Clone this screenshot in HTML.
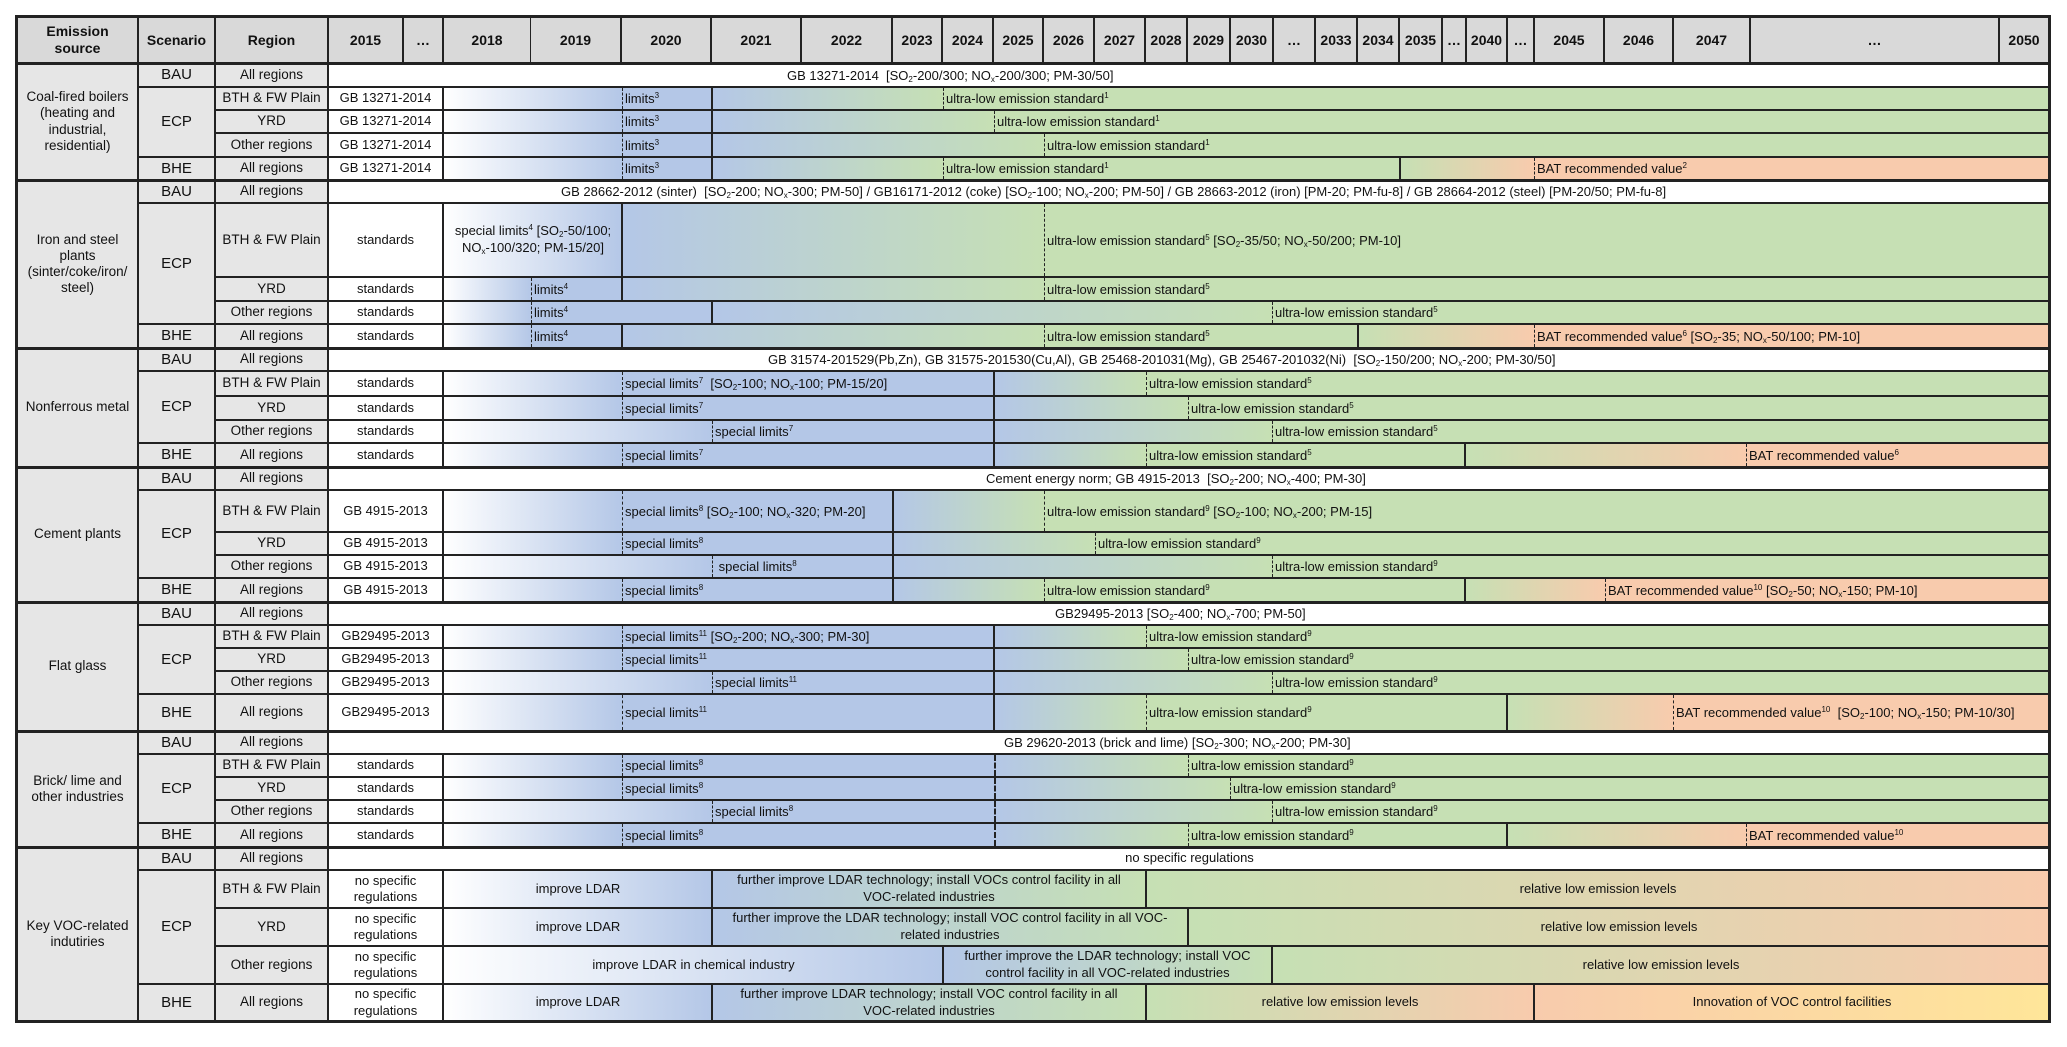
<!DOCTYPE html>
<html><head><meta charset="utf-8"><style>
body{margin:0;width:2067px;height:1047px;background:#fff;position:relative;font-family:"Liberation Sans",Arial,sans-serif;overflow:hidden;color:#111}
.c{position:absolute;box-sizing:border-box;border:1px solid #222;display:flex;align-items:center;justify-content:center;text-align:center;line-height:1.2}
.h{background:#d9d9d9;font-weight:bold;font-size:14px}
.l{background:#e6e6e6;font-size:13.5px}
.sc{font-size:15px}
.r{position:absolute;left:328px;width:1721px;box-sizing:border-box;border:1px solid #222;background:#fff;font-size:13px;overflow:hidden}
.f{position:absolute;left:0;top:0;bottom:0;width:115px;display:flex;align-items:center;justify-content:center;text-align:center;border-right:2px solid #222;box-sizing:border-box;line-height:1.25;background:#fff}
.s{position:absolute;top:0;bottom:0}
.v{position:absolute;top:0;bottom:0;width:2px;background:#222}
.d{position:absolute;top:0;bottom:0;width:0;border-left:1.3px dashed #222}
.t{position:absolute;top:0;bottom:0;display:flex;align-items:center;white-space:nowrap;padding-left:3px}
.m{position:absolute;top:0;bottom:0;display:flex;align-items:center;justify-content:center;text-align:center;line-height:1.3}
.bt{position:absolute;top:0;bottom:0;display:flex;align-items:center;white-space:nowrap}
sup{font-size:8px;vertical-align:5px;line-height:0}
sub{font-size:8px;vertical-align:-2px;line-height:0}
.g{position:absolute;left:17px;width:2032px;height:3px;background:#222}
</style></head><body>

<div class="c h" style="left:17px;top:17px;width:121px;height:46px">Emission<br>source</div>
<div class="c h" style="left:138px;top:17px;width:77px;height:46px">Scenario</div>
<div class="c h" style="left:215px;top:17px;width:113px;height:46px">Region</div>
<div class="c h" style="left:328px;top:17px;width:75px;height:46px">2015</div>
<div class="c h" style="left:403px;top:17px;width:40px;height:46px">…</div>
<div class="c h" style="left:443px;top:17px;width:88px;height:46px">2018</div>
<div class="c h" style="left:530px;top:17px;width:91px;height:46px">2019</div>
<div class="c h" style="left:621px;top:17px;width:90px;height:46px">2020</div>
<div class="c h" style="left:711px;top:17px;width:90px;height:46px">2021</div>
<div class="c h" style="left:801px;top:17px;width:91px;height:46px">2022</div>
<div class="c h" style="left:892px;top:17px;width:50px;height:46px">2023</div>
<div class="c h" style="left:942px;top:17px;width:51px;height:46px">2024</div>
<div class="c h" style="left:993px;top:17px;width:50px;height:46px">2025</div>
<div class="c h" style="left:1043px;top:17px;width:51px;height:46px">2026</div>
<div class="c h" style="left:1094px;top:17px;width:51px;height:46px">2027</div>
<div class="c h" style="left:1145px;top:17px;width:42px;height:46px">2028</div>
<div class="c h" style="left:1187px;top:17px;width:43px;height:46px">2029</div>
<div class="c h" style="left:1230px;top:17px;width:43px;height:46px">2030</div>
<div class="c h" style="left:1273px;top:17px;width:42px;height:46px">…</div>
<div class="c h" style="left:1315px;top:17px;width:42px;height:46px">2033</div>
<div class="c h" style="left:1357px;top:17px;width:42px;height:46px">2034</div>
<div class="c h" style="left:1399px;top:17px;width:43px;height:46px">2035</div>
<div class="c h" style="left:1442px;top:17px;width:24px;height:46px">…</div>
<div class="c h" style="left:1466px;top:17px;width:41px;height:46px">2040</div>
<div class="c h" style="left:1507px;top:17px;width:27px;height:46px">…</div>
<div class="c h" style="left:1534px;top:17px;width:70px;height:46px">2045</div>
<div class="c h" style="left:1604px;top:17px;width:69px;height:46px">2046</div>
<div class="c h" style="left:1673px;top:17px;width:77px;height:46px">2047</div>
<div class="c h" style="left:1750px;top:17px;width:249px;height:46px">…</div>
<div class="c h" style="left:1999px;top:17px;width:50px;height:46px">2050</div>

<div class="c l" style="left:17px;top:63px;width:121px;height:117px">Coal-fired boilers<br>(heating and<br>industrial,<br>residential)</div>
<div class="c l" style="left:17px;top:180px;width:121px;height:168px">Iron and steel<br>plants<br>(sinter/coke/iron/<br>steel)</div>
<div class="c l" style="left:17px;top:348px;width:121px;height:119px">Nonferrous metal</div>
<div class="c l" style="left:17px;top:467px;width:121px;height:135px">Cement plants</div>
<div class="c l" style="left:17px;top:602px;width:121px;height:129px">Flat glass</div>
<div class="c l" style="left:17px;top:731px;width:121px;height:116px">Brick/ lime and<br>other industries</div>
<div class="c l" style="left:17px;top:847px;width:121px;height:174px">Key VOC-related<br>indutiries</div>

<div class="c l sc" style="left:138px;top:63px;width:77px;height:24px">BAU</div>
<div class="c l sc" style="left:138px;top:87px;width:77px;height:70px">ECP</div>
<div class="c l sc" style="left:138px;top:157px;width:77px;height:23px">BHE</div>
<div class="c l sc" style="left:138px;top:180px;width:77px;height:23px">BAU</div>
<div class="c l sc" style="left:138px;top:203px;width:77px;height:121px">ECP</div>
<div class="c l sc" style="left:138px;top:324px;width:77px;height:24px">BHE</div>
<div class="c l sc" style="left:138px;top:348px;width:77px;height:23px">BAU</div>
<div class="c l sc" style="left:138px;top:371px;width:77px;height:72px">ECP</div>
<div class="c l sc" style="left:138px;top:443px;width:77px;height:24px">BHE</div>
<div class="c l sc" style="left:138px;top:467px;width:77px;height:23px">BAU</div>
<div class="c l sc" style="left:138px;top:490px;width:77px;height:88px">ECP</div>
<div class="c l sc" style="left:138px;top:578px;width:77px;height:24px">BHE</div>
<div class="c l sc" style="left:138px;top:602px;width:77px;height:23px">BAU</div>
<div class="c l sc" style="left:138px;top:625px;width:77px;height:69px">ECP</div>
<div class="c l sc" style="left:138px;top:694px;width:77px;height:37px">BHE</div>
<div class="c l sc" style="left:138px;top:731px;width:77px;height:23px">BAU</div>
<div class="c l sc" style="left:138px;top:754px;width:77px;height:69px">ECP</div>
<div class="c l sc" style="left:138px;top:823px;width:77px;height:24px">BHE</div>
<div class="c l sc" style="left:138px;top:847px;width:77px;height:23px">BAU</div>
<div class="c l sc" style="left:138px;top:870px;width:77px;height:114px">ECP</div>
<div class="c l sc" style="left:138px;top:984px;width:77px;height:37px">BHE</div>

<div class="c l" style="left:215px;top:63px;width:113px;height:24px">All regions</div>
<div class="c l" style="left:215px;top:87px;width:113px;height:23px">BTH &amp; FW Plain</div>
<div class="c l" style="left:215px;top:110px;width:113px;height:23px">YRD</div>
<div class="c l" style="left:215px;top:133px;width:113px;height:24px">Other regions</div>
<div class="c l" style="left:215px;top:157px;width:113px;height:23px">All regions</div>
<div class="c l" style="left:215px;top:180px;width:113px;height:23px">All regions</div>
<div class="c l" style="left:215px;top:203px;width:113px;height:74px">BTH &amp; FW Plain</div>
<div class="c l" style="left:215px;top:277px;width:113px;height:24px">YRD</div>
<div class="c l" style="left:215px;top:301px;width:113px;height:23px">Other regions</div>
<div class="c l" style="left:215px;top:324px;width:113px;height:24px">All regions</div>
<div class="c l" style="left:215px;top:348px;width:113px;height:23px">All regions</div>
<div class="c l" style="left:215px;top:371px;width:113px;height:25px">BTH &amp; FW Plain</div>
<div class="c l" style="left:215px;top:396px;width:113px;height:24px">YRD</div>
<div class="c l" style="left:215px;top:420px;width:113px;height:23px">Other regions</div>
<div class="c l" style="left:215px;top:443px;width:113px;height:24px">All regions</div>
<div class="c l" style="left:215px;top:467px;width:113px;height:23px">All regions</div>
<div class="c l" style="left:215px;top:490px;width:113px;height:42px">BTH &amp; FW Plain</div>
<div class="c l" style="left:215px;top:532px;width:113px;height:23px">YRD</div>
<div class="c l" style="left:215px;top:555px;width:113px;height:23px">Other regions</div>
<div class="c l" style="left:215px;top:578px;width:113px;height:24px">All regions</div>
<div class="c l" style="left:215px;top:602px;width:113px;height:23px">All regions</div>
<div class="c l" style="left:215px;top:625px;width:113px;height:23px">BTH &amp; FW Plain</div>
<div class="c l" style="left:215px;top:648px;width:113px;height:23px">YRD</div>
<div class="c l" style="left:215px;top:671px;width:113px;height:23px">Other regions</div>
<div class="c l" style="left:215px;top:694px;width:113px;height:37px">All regions</div>
<div class="c l" style="left:215px;top:731px;width:113px;height:23px">All regions</div>
<div class="c l" style="left:215px;top:754px;width:113px;height:23px">BTH &amp; FW Plain</div>
<div class="c l" style="left:215px;top:777px;width:113px;height:23px">YRD</div>
<div class="c l" style="left:215px;top:800px;width:113px;height:23px">Other regions</div>
<div class="c l" style="left:215px;top:823px;width:113px;height:24px">All regions</div>
<div class="c l" style="left:215px;top:847px;width:113px;height:23px">All regions</div>
<div class="c l" style="left:215px;top:870px;width:113px;height:38px">BTH &amp; FW Plain</div>
<div class="c l" style="left:215px;top:908px;width:113px;height:38px">YRD</div>
<div class="c l" style="left:215px;top:946px;width:113px;height:38px">Other regions</div>
<div class="c l" style="left:215px;top:984px;width:113px;height:37px">All regions</div>

<!-- COAL -->
<div class="r" style="top:63px;height:24px"><div class="bt" style="left:458px"><span>GB 13271-2014&nbsp; [SO<sub>2</sub>-200/300; NO<sub>x</sub>-200/300; PM-30/50]</span></div></div>
<div class="r" style="top:87px;height:23px">
<div class="f">GB 13271-2014</div>
<div class="s" style="left:115px;width:268px;background:linear-gradient(90deg,#fff,#b4c7e7 178px)"></div>
<div class="s" style="left:383px;width:1338px;background:linear-gradient(90deg,#b4c7e7,#c6e0b4 231px)"></div>
<div class="v" style="left:382px"></div>
<div class="d" style="left:293px"></div><div class="t" style="left:293px"><span>limits<sup>3</sup></span></div>
<div class="d" style="left:614px"></div><div class="t" style="left:614px"><span>ultra-low emission standard<sup>1</sup></span></div>
</div>
<div class="r" style="top:110px;height:23px">
<div class="f">GB 13271-2014</div>
<div class="s" style="left:115px;width:268px;background:linear-gradient(90deg,#fff,#b4c7e7 178px)"></div>
<div class="s" style="left:383px;width:1338px;background:linear-gradient(90deg,#b4c7e7,#c6e0b4 282px)"></div>
<div class="v" style="left:382px"></div>
<div class="d" style="left:293px"></div><div class="t" style="left:293px"><span>limits<sup>3</sup></span></div>
<div class="d" style="left:665px"></div><div class="t" style="left:665px"><span>ultra-low emission standard<sup>1</sup></span></div>
</div>
<div class="r" style="top:133px;height:24px">
<div class="f">GB 13271-2014</div>
<div class="s" style="left:115px;width:268px;background:linear-gradient(90deg,#fff,#b4c7e7 178px)"></div>
<div class="s" style="left:383px;width:1338px;background:linear-gradient(90deg,#b4c7e7,#c6e0b4 332px)"></div>
<div class="v" style="left:382px"></div>
<div class="d" style="left:293px"></div><div class="t" style="left:293px"><span>limits<sup>3</sup></span></div>
<div class="d" style="left:715px"></div><div class="t" style="left:715px"><span>ultra-low emission standard<sup>1</sup></span></div>
</div>
<div class="r" style="top:157px;height:23px">
<div class="f">GB 13271-2014</div>
<div class="s" style="left:115px;width:268px;background:linear-gradient(90deg,#fff,#b4c7e7 178px)"></div>
<div class="s" style="left:383px;width:688px;background:linear-gradient(90deg,#b4c7e7,#c6e0b4 231px)"></div>
<div class="s" style="left:1071px;width:650px;background:linear-gradient(90deg,#c6e0b4,#f8cbad 134px)"></div>
<div class="v" style="left:382px"></div><div class="v" style="left:1070px"></div>
<div class="d" style="left:293px"></div><div class="t" style="left:293px"><span>limits<sup>3</sup></span></div>
<div class="d" style="left:614px"></div><div class="t" style="left:614px"><span>ultra-low emission standard<sup>1</sup></span></div>
<div class="d" style="left:1205px"></div><div class="t" style="left:1205px"><span>BAT recommended value<sup>2</sup></span></div>
</div>

<!-- IRON -->
<div class="r" style="top:180px;height:23px"><div class="bt" style="left:232px"><span>GB 28662-2012 (sinter)&nbsp; [SO<sub>2</sub>-200; NO<sub>x</sub>-300; PM-50] / GB16171-2012 (coke) [SO<sub>2</sub>-100; NO<sub>x</sub>-200; PM-50] / GB 28663-2012 (iron) [PM-20; PM-fu-8] / GB 28664-2012 (steel) [PM-20/50; PM-fu-8]</span></div></div>
<div class="r" style="top:203px;height:74px">
<div class="f">standards</div>
<div class="s" style="left:115px;width:178px;background:linear-gradient(90deg,#fff,#b4c7e7 178px)"></div>
<div class="s" style="left:293px;width:1428px;background:linear-gradient(90deg,#b4c7e7,#c6e0b4 422px)"></div>
<div class="v" style="left:292px"></div>
<div class="m" style="left:115px;width:178px;white-space:nowrap"><span>special limits<sup>4</sup> [SO<sub>2</sub>-50/100;<br>NO<sub>x</sub>-100/320; PM-15/20]</span></div>
<div class="d" style="left:715px"></div><div class="t" style="left:715px"><span>ultra-low emission standard<sup>5</sup> [SO<sub>2</sub>-35/50; NO<sub>x</sub>-50/200; PM-10]</span></div>
</div>
<div class="r" style="top:277px;height:24px">
<div class="f">standards</div>
<div class="s" style="left:115px;width:178px;background:linear-gradient(90deg,#fff,#b4c7e7 87px)"></div>
<div class="s" style="left:293px;width:1428px;background:linear-gradient(90deg,#b4c7e7,#c6e0b4 422px)"></div>
<div class="v" style="left:292px"></div>
<div class="d" style="left:202px"></div><div class="t" style="left:202px"><span>limits<sup>4</sup></span></div>
<div class="d" style="left:715px"></div><div class="t" style="left:715px"><span>ultra-low emission standard<sup>5</sup></span></div>
</div>
<div class="r" style="top:301px;height:23px">
<div class="f">standards</div>
<div class="s" style="left:115px;width:268px;background:linear-gradient(90deg,#fff,#b4c7e7 87px)"></div>
<div class="s" style="left:383px;width:1338px;background:linear-gradient(90deg,#b4c7e7,#c6e0b4 560px)"></div>
<div class="v" style="left:382px"></div>
<div class="d" style="left:202px"></div><div class="t" style="left:202px"><span>limits<sup>4</sup></span></div>
<div class="d" style="left:943px"></div><div class="t" style="left:943px"><span>ultra-low emission standard<sup>5</sup></span></div>
</div>
<div class="r" style="top:324px;height:24px">
<div class="f">standards</div>
<div class="s" style="left:115px;width:178px;background:linear-gradient(90deg,#fff,#b4c7e7 87px)"></div>
<div class="s" style="left:293px;width:736px;background:linear-gradient(90deg,#b4c7e7,#c6e0b4 422px)"></div>
<div class="s" style="left:1029px;width:692px;background:linear-gradient(90deg,#c6e0b4,#f8cbad 176px)"></div>
<div class="v" style="left:292px"></div><div class="v" style="left:1028px"></div>
<div class="d" style="left:202px"></div><div class="t" style="left:202px"><span>limits<sup>4</sup></span></div>
<div class="d" style="left:715px"></div><div class="t" style="left:715px"><span>ultra-low emission standard<sup>5</sup></span></div>
<div class="d" style="left:1205px"></div><div class="t" style="left:1205px"><span>BAT recommended value<sup>6</sup> [SO<sub>2</sub>-35; NO<sub>x</sub>-50/100; PM-10]</span></div>
</div>

<!-- NONFERROUS -->
<div class="r" style="top:348px;height:23px"><div class="bt" style="left:439px"><span>GB 31574-201529(Pb,Zn), GB 31575-201530(Cu,Al), GB 25468-201031(Mg), GB 25467-201032(Ni)&nbsp; [SO<sub>2</sub>-150/200; NO<sub>x</sub>-200; PM-30/50]</span></div></div>
<div class="r" style="top:371px;height:25px">
<div class="f">standards</div>
<div class="s" style="left:115px;width:550px;background:linear-gradient(90deg,#fff,#b4c7e7 178px)"></div>
<div class="s" style="left:665px;width:1056px;background:linear-gradient(90deg,#b4c7e7,#c6e0b4 152px)"></div>
<div class="v" style="left:664px"></div>
<div class="d" style="left:293px"></div><div class="t" style="left:293px"><span>special limits<sup>7</sup>&nbsp; [SO<sub>2</sub>-100; NO<sub>x</sub>-100; PM-15/20]</span></div>
<div class="d" style="left:817px"></div><div class="t" style="left:817px"><span>ultra-low emission standard<sup>5</sup></span></div>
</div>
<div class="r" style="top:396px;height:24px">
<div class="f">standards</div>
<div class="s" style="left:115px;width:550px;background:linear-gradient(90deg,#fff,#b4c7e7 178px)"></div>
<div class="s" style="left:665px;width:1056px;background:linear-gradient(90deg,#b4c7e7,#c6e0b4 194px)"></div>
<div class="v" style="left:664px"></div>
<div class="d" style="left:293px"></div><div class="t" style="left:293px"><span>special limits<sup>7</sup></span></div>
<div class="d" style="left:859px"></div><div class="t" style="left:859px"><span>ultra-low emission standard<sup>5</sup></span></div>
</div>
<div class="r" style="top:420px;height:23px">
<div class="f">standards</div>
<div class="s" style="left:115px;width:550px;background:linear-gradient(90deg,#fff,#b4c7e7 268px)"></div>
<div class="s" style="left:665px;width:1056px;background:linear-gradient(90deg,#b4c7e7,#c6e0b4 278px)"></div>
<div class="v" style="left:664px"></div>
<div class="d" style="left:383px"></div><div class="t" style="left:383px"><span>special limits<sup>7</sup></span></div>
<div class="d" style="left:943px"></div><div class="t" style="left:943px"><span>ultra-low emission standard<sup>5</sup></span></div>
</div>
<div class="r" style="top:443px;height:24px">
<div class="f">standards</div>
<div class="s" style="left:115px;width:550px;background:linear-gradient(90deg,#fff,#b4c7e7 178px)"></div>
<div class="s" style="left:665px;width:471px;background:linear-gradient(90deg,#b4c7e7,#c6e0b4 152px)"></div>
<div class="s" style="left:1136px;width:585px;background:linear-gradient(90deg,#c6e0b4,#f8cbad 281px)"></div>
<div class="v" style="left:664px"></div><div class="v" style="left:1135px"></div>
<div class="d" style="left:293px"></div><div class="t" style="left:293px"><span>special limits<sup>7</sup></span></div>
<div class="d" style="left:817px"></div><div class="t" style="left:817px"><span>ultra-low emission standard<sup>5</sup></span></div>
<div class="d" style="left:1417px"></div><div class="t" style="left:1417px"><span>BAT recommended value<sup>6</sup></span></div>
</div>

<!-- CEMENT -->
<div class="r" style="top:467px;height:23px"><div class="bt" style="left:657px"><span>Cement energy norm; GB 4915-2013&nbsp; [SO<sub>2</sub>-200; NO<sub>x</sub>-400; PM-30]</span></div></div>
<div class="r" style="top:490px;height:42px">
<div class="f">GB 4915-2013</div>
<div class="s" style="left:115px;width:449px;background:linear-gradient(90deg,#fff,#b4c7e7 178px)"></div>
<div class="s" style="left:564px;width:1157px;background:linear-gradient(90deg,#b4c7e7,#c6e0b4 151px)"></div>
<div class="v" style="left:563px"></div>
<div class="d" style="left:293px"></div><div class="t" style="left:293px"><span>special limits<sup>8</sup> [SO<sub>2</sub>-100; NO<sub>x</sub>-320; PM-20]</span></div>
<div class="d" style="left:715px"></div><div class="t" style="left:715px"><span>ultra-low emission standard<sup>9</sup> [SO<sub>2</sub>-100; NO<sub>x</sub>-200; PM-15]</span></div>
</div>
<div class="r" style="top:532px;height:23px">
<div class="f">GB 4915-2013</div>
<div class="s" style="left:115px;width:449px;background:linear-gradient(90deg,#fff,#b4c7e7 178px)"></div>
<div class="s" style="left:564px;width:1157px;background:linear-gradient(90deg,#b4c7e7,#c6e0b4 202px)"></div>
<div class="v" style="left:563px"></div>
<div class="d" style="left:293px"></div><div class="t" style="left:293px"><span>special limits<sup>8</sup></span></div>
<div class="d" style="left:766px"></div><div class="t" style="left:766px"><span>ultra-low emission standard<sup>9</sup></span></div>
</div>
<div class="r" style="top:555px;height:23px">
<div class="f">GB 4915-2013</div>
<div class="s" style="left:115px;width:449px;background:linear-gradient(90deg,#fff,#b4c7e7 268px)"></div>
<div class="s" style="left:564px;width:1157px;background:linear-gradient(90deg,#b4c7e7,#c6e0b4 379px)"></div>
<div class="v" style="left:563px"></div>
<div class="d" style="left:383px"></div><div class="t" style="left:383px"><span>&nbsp;special limits<sup>8</sup></span></div>
<div class="d" style="left:943px"></div><div class="t" style="left:943px"><span>ultra-low emission standard<sup>9</sup></span></div>
</div>
<div class="r" style="top:578px;height:24px">
<div class="f">GB 4915-2013</div>
<div class="s" style="left:115px;width:449px;background:linear-gradient(90deg,#fff,#b4c7e7 178px)"></div>
<div class="s" style="left:564px;width:572px;background:linear-gradient(90deg,#b4c7e7,#c6e0b4 151px)"></div>
<div class="s" style="left:1136px;width:585px;background:linear-gradient(90deg,#c6e0b4,#f8cbad 140px)"></div>
<div class="v" style="left:563px"></div><div class="v" style="left:1135px"></div>
<div class="d" style="left:293px"></div><div class="t" style="left:293px"><span>special limits<sup>8</sup></span></div>
<div class="d" style="left:715px"></div><div class="t" style="left:715px"><span>ultra-low emission standard<sup>9</sup></span></div>
<div class="d" style="left:1276px"></div><div class="t" style="left:1276px"><span>BAT recommended value<sup>10</sup> [SO<sub>2</sub>-50; NO<sub>x</sub>-150; PM-10]</span></div>
</div>

<!-- FLAT GLASS -->
<div class="r" style="top:602px;height:23px"><div class="bt" style="left:726px"><span>GB29495-2013 [SO<sub>2</sub>-400; NO<sub>x</sub>-700; PM-50]</span></div></div>
<div class="r" style="top:625px;height:23px">
<div class="f">GB29495-2013</div>
<div class="s" style="left:115px;width:550px;background:linear-gradient(90deg,#fff,#b4c7e7 178px)"></div>
<div class="s" style="left:665px;width:1056px;background:linear-gradient(90deg,#b4c7e7,#c6e0b4 152px)"></div>
<div class="v" style="left:664px"></div>
<div class="d" style="left:293px"></div><div class="t" style="left:293px"><span>special limits<sup>11</sup> [SO<sub>2</sub>-200; NO<sub>x</sub>-300; PM-30]</span></div>
<div class="d" style="left:817px"></div><div class="t" style="left:817px"><span>ultra-low emission standard<sup>9</sup></span></div>
</div>
<div class="r" style="top:648px;height:23px">
<div class="f">GB29495-2013</div>
<div class="s" style="left:115px;width:550px;background:linear-gradient(90deg,#fff,#b4c7e7 178px)"></div>
<div class="s" style="left:665px;width:1056px;background:linear-gradient(90deg,#b4c7e7,#c6e0b4 194px)"></div>
<div class="v" style="left:664px"></div>
<div class="d" style="left:293px"></div><div class="t" style="left:293px"><span>special limits<sup>11</sup></span></div>
<div class="d" style="left:859px"></div><div class="t" style="left:859px"><span>ultra-low emission standard<sup>9</sup></span></div>
</div>
<div class="r" style="top:671px;height:23px">
<div class="f">GB29495-2013</div>
<div class="s" style="left:115px;width:550px;background:linear-gradient(90deg,#fff,#b4c7e7 268px)"></div>
<div class="s" style="left:665px;width:1056px;background:linear-gradient(90deg,#b4c7e7,#c6e0b4 278px)"></div>
<div class="v" style="left:664px"></div>
<div class="d" style="left:383px"></div><div class="t" style="left:383px"><span>special limits<sup>11</sup></span></div>
<div class="d" style="left:943px"></div><div class="t" style="left:943px"><span>ultra-low emission standard<sup>9</sup></span></div>
</div>
<div class="r" style="top:694px;height:37px">
<div class="f">GB29495-2013</div>
<div class="s" style="left:115px;width:550px;background:linear-gradient(90deg,#fff,#b4c7e7 178px)"></div>
<div class="s" style="left:665px;width:513px;background:linear-gradient(90deg,#b4c7e7,#c6e0b4 152px)"></div>
<div class="s" style="left:1178px;width:543px;background:linear-gradient(90deg,#c6e0b4,#f8cbad 166px)"></div>
<div class="v" style="left:664px"></div><div class="v" style="left:1177px"></div>
<div class="d" style="left:293px"></div><div class="t" style="left:293px"><span>special limits<sup>11</sup></span></div>
<div class="d" style="left:817px"></div><div class="t" style="left:817px"><span>ultra-low emission standard<sup>9</sup></span></div>
<div class="d" style="left:1344px"></div><div class="t" style="left:1344px"><span>BAT recommended value<sup>10</sup>&nbsp; [SO<sub>2</sub>-100; NO<sub>x</sub>-150; PM-10/30]</span></div>
</div>

<!-- BRICK -->
<div class="r" style="top:731px;height:23px"><div class="bt" style="left:675px"><span>GB 29620-2013 (brick and lime) [SO<sub>2</sub>-300; NO<sub>x</sub>-200; PM-30]</span></div></div>
<div class="r" style="top:754px;height:23px">
<div class="f">standards</div>
<div class="s" style="left:115px;width:550px;background:linear-gradient(90deg,#fff,#b4c7e7 178px)"></div>
<div class="s" style="left:665px;width:1056px;background:linear-gradient(90deg,#b4c7e7,#c6e0b4 194px)"></div>
<div class="d" style="left:665px;border-left-width:2px"></div>
<div class="d" style="left:293px"></div><div class="t" style="left:293px"><span>special limits<sup>8</sup></span></div>
<div class="d" style="left:859px"></div><div class="t" style="left:859px"><span>ultra-low emission standard<sup>9</sup></span></div>
</div>
<div class="r" style="top:777px;height:23px">
<div class="f">standards</div>
<div class="s" style="left:115px;width:550px;background:linear-gradient(90deg,#fff,#b4c7e7 178px)"></div>
<div class="s" style="left:665px;width:1056px;background:linear-gradient(90deg,#b4c7e7,#c6e0b4 236px)"></div>
<div class="d" style="left:665px;border-left-width:2px"></div>
<div class="d" style="left:293px"></div><div class="t" style="left:293px"><span>special limits<sup>8</sup></span></div>
<div class="d" style="left:901px"></div><div class="t" style="left:901px"><span>ultra-low emission standard<sup>9</sup></span></div>
</div>
<div class="r" style="top:800px;height:23px">
<div class="f">standards</div>
<div class="s" style="left:115px;width:550px;background:linear-gradient(90deg,#fff,#b4c7e7 268px)"></div>
<div class="s" style="left:665px;width:1056px;background:linear-gradient(90deg,#b4c7e7,#c6e0b4 278px)"></div>
<div class="d" style="left:665px;border-left-width:2px"></div>
<div class="d" style="left:383px"></div><div class="t" style="left:383px"><span>special limits<sup>8</sup></span></div>
<div class="d" style="left:943px"></div><div class="t" style="left:943px"><span>ultra-low emission standard<sup>9</sup></span></div>
</div>
<div class="r" style="top:823px;height:24px">
<div class="f">standards</div>
<div class="s" style="left:115px;width:550px;background:linear-gradient(90deg,#fff,#b4c7e7 178px)"></div>
<div class="s" style="left:665px;width:513px;background:linear-gradient(90deg,#b4c7e7,#c6e0b4 194px)"></div>
<div class="s" style="left:1178px;width:543px;background:linear-gradient(90deg,#c6e0b4,#f8cbad 239px)"></div>
<div class="d" style="left:665px;border-left-width:2px"></div><div class="v" style="left:1177px"></div>
<div class="d" style="left:293px"></div><div class="t" style="left:293px"><span>special limits<sup>8</sup></span></div>
<div class="d" style="left:859px"></div><div class="t" style="left:859px"><span>ultra-low emission standard<sup>9</sup></span></div>
<div class="d" style="left:1417px"></div><div class="t" style="left:1417px"><span>BAT recommended value<sup>10</sup></span></div>
</div>

<!-- VOC -->
<div class="r" style="top:847px;height:23px"><div class="m" style="left:0;width:1721px"><span>no specific regulations</span></div></div>
<div class="r" style="top:870px;height:38px">
<div class="f">no specific<br>regulations</div>
<div class="s" style="left:115px;width:268px;background:linear-gradient(90deg,#fff,#b4c7e7)"></div>
<div class="s" style="left:383px;width:434px;background:linear-gradient(90deg,#b4c7e7,#c6e0b4)"></div>
<div class="s" style="left:817px;width:904px;background:linear-gradient(90deg,#c6e0b4,#f8cbad)"></div>
<div class="v" style="left:382px"></div><div class="v" style="left:816px"></div>
<div class="m" style="left:115px;width:268px"><span>improve LDAR</span></div>
<div class="m" style="left:383px;width:434px"><span>further improve LDAR technology; install VOCs control facility in all<br>VOC-related industries</span></div>
<div class="m" style="left:817px;width:904px"><span>relative low emission levels</span></div>
</div>
<div class="r" style="top:908px;height:38px">
<div class="f">no specific<br>regulations</div>
<div class="s" style="left:115px;width:268px;background:linear-gradient(90deg,#fff,#b4c7e7)"></div>
<div class="s" style="left:383px;width:476px;background:linear-gradient(90deg,#b4c7e7,#c6e0b4)"></div>
<div class="s" style="left:859px;width:862px;background:linear-gradient(90deg,#c6e0b4,#f8cbad)"></div>
<div class="v" style="left:382px"></div><div class="v" style="left:858px"></div>
<div class="m" style="left:115px;width:268px"><span>improve LDAR</span></div>
<div class="m" style="left:383px;width:476px"><span>further improve the LDAR technology; install VOC control facility in all VOC-<br>related industries</span></div>
<div class="m" style="left:859px;width:862px"><span>relative low emission levels</span></div>
</div>
<div class="r" style="top:946px;height:38px">
<div class="f">no specific<br>regulations</div>
<div class="s" style="left:115px;width:499px;background:linear-gradient(90deg,#fff,#b4c7e7)"></div>
<div class="s" style="left:614px;width:329px;background:linear-gradient(90deg,#b4c7e7,#c6e0b4)"></div>
<div class="s" style="left:943px;width:778px;background:linear-gradient(90deg,#c6e0b4,#f8cbad)"></div>
<div class="v" style="left:613px"></div><div class="v" style="left:942px"></div>
<div class="m" style="left:115px;width:499px"><span>improve LDAR in chemical industry</span></div>
<div class="m" style="left:614px;width:329px"><span>further improve the LDAR technology; install VOC<br>control facility in all VOC-related industries</span></div>
<div class="m" style="left:943px;width:778px"><span>relative low emission levels</span></div>
</div>
<div class="r" style="top:984px;height:37px">
<div class="f">no specific<br>regulations</div>
<div class="s" style="left:115px;width:268px;background:linear-gradient(90deg,#fff,#b4c7e7)"></div>
<div class="s" style="left:383px;width:434px;background:linear-gradient(90deg,#b4c7e7,#c6e0b4)"></div>
<div class="s" style="left:817px;width:388px;background:linear-gradient(90deg,#c6e0b4,#f8cbad)"></div>
<div class="s" style="left:1205px;width:516px;background:linear-gradient(90deg,#f8cbad,#ffe699)"></div>
<div class="v" style="left:382px"></div><div class="v" style="left:816px"></div><div class="v" style="left:1204px"></div>
<div class="m" style="left:115px;width:268px"><span>improve LDAR</span></div>
<div class="m" style="left:383px;width:434px"><span>further improve LDAR technology; install VOC control facility in all<br>VOC-related industries</span></div>
<div class="m" style="left:817px;width:388px"><span>relative low emission levels</span></div>
<div class="m" style="left:1205px;width:516px"><span>Innovation of VOC control facilities</span></div>
</div>

<div class="g" style="top:62px"></div>
<div class="g" style="top:179px"></div>
<div class="g" style="top:347px"></div>
<div class="g" style="top:466px"></div>
<div class="g" style="top:601px"></div>
<div class="g" style="top:730px"></div>
<div class="g" style="top:846px"></div>
<div style="position:absolute;left:15px;top:15px;width:2036px;height:1008px;border:3px solid #222;box-sizing:border-box"></div>
</body></html>
